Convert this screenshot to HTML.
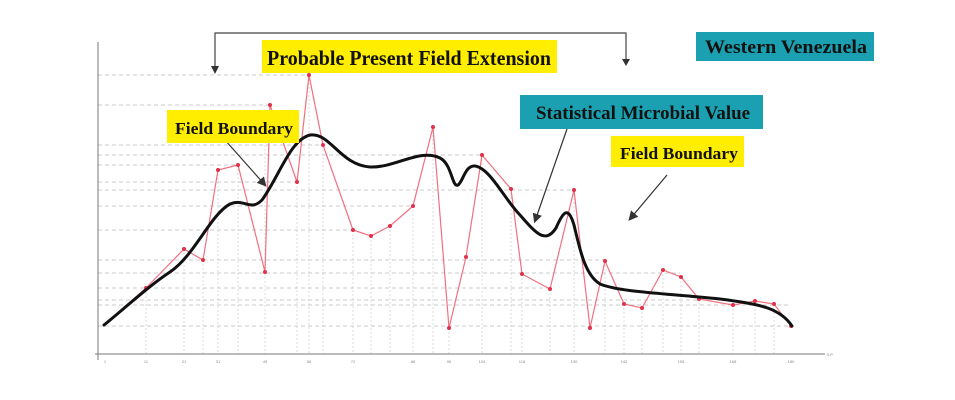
<!DOCTYPE html>
<html><head><style>
body{margin:0;background:#fff;}
svg{display:block;font-family:"Liberation Serif",serif;}
</style></head><body>
<svg width="955" height="400" viewBox="0 0 955 400">
<defs><marker id="ah" markerWidth="8" markerHeight="8" refX="6" refY="4" orient="auto"><path d="M0,0 L8,4 L0,8 z" fill="#333"/></marker></defs>
<g stroke="#bbb" stroke-width="0.8" stroke-dasharray="4,3">
<line x1="98" y1="75" x2="310" y2="75"/><line x1="98" y1="105" x2="270" y2="105"/><line x1="98" y1="145" x2="323" y2="145"/>
<line x1="98" y1="155" x2="482" y2="155"/><line x1="98" y1="165" x2="240" y2="165"/><line x1="98" y1="182" x2="297" y2="182"/>
<line x1="98" y1="190" x2="574" y2="190"/><line x1="98" y1="206" x2="413" y2="206"/><line x1="98" y1="230" x2="353" y2="230"/>
<line x1="98" y1="260" x2="605" y2="260"/><line x1="98" y1="273" x2="680" y2="273"/><line x1="98" y1="288" x2="550" y2="288"/>
<line x1="98" y1="300" x2="700" y2="300"/><line x1="98" y1="305" x2="790" y2="305"/><line x1="98" y1="326" x2="790" y2="326"/>
</g>
<g stroke="#ccc" stroke-width="0.7" stroke-dasharray="2,2">
<line x1="146" y1="288" x2="146" y2="354"/><line x1="184" y1="249" x2="184" y2="354"/><line x1="203" y1="260" x2="203" y2="354"/>
<line x1="218" y1="170" x2="218" y2="354"/><line x1="238" y1="165" x2="238" y2="354"/><line x1="265" y1="105" x2="265" y2="354"/>
<line x1="297" y1="182" x2="297" y2="354"/><line x1="309" y1="75" x2="309" y2="354"/><line x1="323" y1="145" x2="323" y2="354"/>
<line x1="353" y1="230" x2="353" y2="354"/><line x1="371" y1="236" x2="371" y2="354"/><line x1="390" y1="226" x2="390" y2="354"/>
<line x1="413" y1="206" x2="413" y2="354"/><line x1="433" y1="127" x2="433" y2="354"/><line x1="449" y1="328" x2="449" y2="354"/>
<line x1="482" y1="155" x2="482" y2="354"/><line x1="511" y1="189" x2="511" y2="354"/><line x1="522" y1="274" x2="522" y2="354"/>
<line x1="550" y1="289" x2="550" y2="354"/><line x1="574" y1="190" x2="574" y2="354"/><line x1="605" y1="261" x2="605" y2="354"/>
<line x1="624" y1="304" x2="624" y2="354"/><line x1="642" y1="308" x2="642" y2="354"/><line x1="663" y1="270" x2="663" y2="354"/>
<line x1="681" y1="277" x2="681" y2="354"/><line x1="699" y1="299" x2="699" y2="354"/><line x1="733" y1="305" x2="733" y2="354"/>
<line x1="755" y1="301" x2="755" y2="354"/><line x1="774" y1="304" x2="774" y2="354"/>
</g>
<line x1="98" y1="42" x2="98" y2="360" stroke="#777" stroke-width="1"/>
<line x1="95" y1="354" x2="825" y2="354" stroke="#777" stroke-width="1"/>
<g font-family="Liberation Sans,sans-serif" font-size="4" fill="#888" text-anchor="middle">
<text x="105" y="363">1</text><text x="146" y="363">11</text><text x="184" y="363">21</text><text x="218" y="363">31</text><text x="265" y="363">45</text><text x="309" y="363">58</text><text x="353" y="363">72</text><text x="413" y="363">88</text><text x="449" y="363">96</text><text x="482" y="363">104</text><text x="522" y="363">118</text><text x="574" y="363">130</text><text x="624" y="363">142</text><text x="681" y="363">155</text><text x="733" y="363">168</text><text x="791" y="363">180</text><text x="830" y="356">S.P.</text>
</g>
<polyline fill="none" stroke="#f07080" stroke-width="1.2" points="104,325 146,288 184,249 203,260 218,170 238,165 265,272 270,105 297,182 309,75 323,145 353,230 371,236 390,226 413,206 433,127 449,328 466,257 482,155 511,189 522,274 550,289 574,190 590,328 605,261 624,304 642,308 663,270 681,277 699,299 733,305 755,301 774,304 791,326"/>
<g fill="#e0304a">
<circle cx="146" cy="288" r="2"/><circle cx="184" cy="249" r="2"/><circle cx="203" cy="260" r="2"/><circle cx="218" cy="170" r="2"/><circle cx="238" cy="165" r="2"/><circle cx="265" cy="272" r="2"/><circle cx="270" cy="105" r="2"/><circle cx="297" cy="182" r="2"/><circle cx="309" cy="75" r="2"/><circle cx="323" cy="145" r="2"/><circle cx="353" cy="230" r="2"/><circle cx="371" cy="236" r="2"/><circle cx="390" cy="226" r="2"/><circle cx="413" cy="206" r="2"/><circle cx="433" cy="127" r="2"/><circle cx="449" cy="328" r="2"/><circle cx="466" cy="257" r="2"/><circle cx="482" cy="155" r="2"/><circle cx="511" cy="189" r="2"/><circle cx="522" cy="274" r="2"/><circle cx="550" cy="289" r="2"/><circle cx="574" cy="190" r="2"/><circle cx="590" cy="328" r="2"/><circle cx="605" cy="261" r="2"/><circle cx="624" cy="304" r="2"/><circle cx="642" cy="308" r="2"/><circle cx="663" cy="270" r="2"/><circle cx="681" cy="277" r="2"/><circle cx="699" cy="299" r="2"/><circle cx="733" cy="305" r="2"/><circle cx="755" cy="301" r="2"/><circle cx="774" cy="304" r="2"/><circle cx="791" cy="326" r="2"/>
</g>
<path fill="none" stroke="#111" stroke-width="3" stroke-linecap="round" d="M104,325 C125,308 150,285 170,272 C195,255 210,215 230,204 C245,198 250,212 262,200 C280,175 290,140 310,135 C330,132 340,165 370,167 C395,168 420,148 440,158 C452,164 452,188 458,185 C463,182 465,165 475,166 C490,168 505,200 520,215 C535,232 545,245 556,228 C563,212 568,205 574,225 C580,250 585,275 600,284 C620,292 660,293 720,299 C760,304 780,308 792,326"/>
<polyline fill="none" stroke="#444" stroke-width="1.2" points="215,68 215,33 626,33 626,60"/>
<path d="M211,66 L219,66 L215,74 z M622,59 L630,59 L626,66 z" fill="#333"/>
<line x1="225" y1="140" x2="265" y2="185" stroke="#333" stroke-width="1.2" marker-end="url(#ah)"/>
<line x1="567" y1="129" x2="535" y2="221" stroke="#333" stroke-width="1.2" marker-end="url(#ah)"/>
<line x1="667" y1="175" x2="630" y2="219" stroke="#333" stroke-width="1.2" marker-end="url(#ah)"/>
<rect x="262" y="40" width="295" height="33" fill="#ffee00"/>
<text x="409" y="65" font-size="21" font-weight="bold" text-anchor="middle" fill="#111" textLength="284" lengthAdjust="spacingAndGlyphs">Probable Present Field Extension</text>
<rect x="696" y="32" width="178" height="29" fill="#1aa0b0"/>
<text x="786" y="53" font-size="19" font-weight="bold" text-anchor="middle" fill="#111" textLength="162" lengthAdjust="spacingAndGlyphs">Western Venezuela</text>
<rect x="520" y="95" width="243" height="34" fill="#1aa0b0"/>
<text x="643" y="119" font-size="19" font-weight="bold" text-anchor="middle" fill="#111" textLength="214" lengthAdjust="spacingAndGlyphs">Statistical Microbial Value</text>
<rect x="167" y="110" width="132" height="33" fill="#ffee00"/>
<text x="234" y="134" font-size="17" font-weight="bold" text-anchor="middle" fill="#111" textLength="118" lengthAdjust="spacingAndGlyphs">Field Boundary</text>
<rect x="611" y="136" width="133" height="31" fill="#ffee00"/>
<text x="679" y="159" font-size="17" font-weight="bold" text-anchor="middle" fill="#111" textLength="118" lengthAdjust="spacingAndGlyphs">Field Boundary</text>
</svg>
</body></html>
